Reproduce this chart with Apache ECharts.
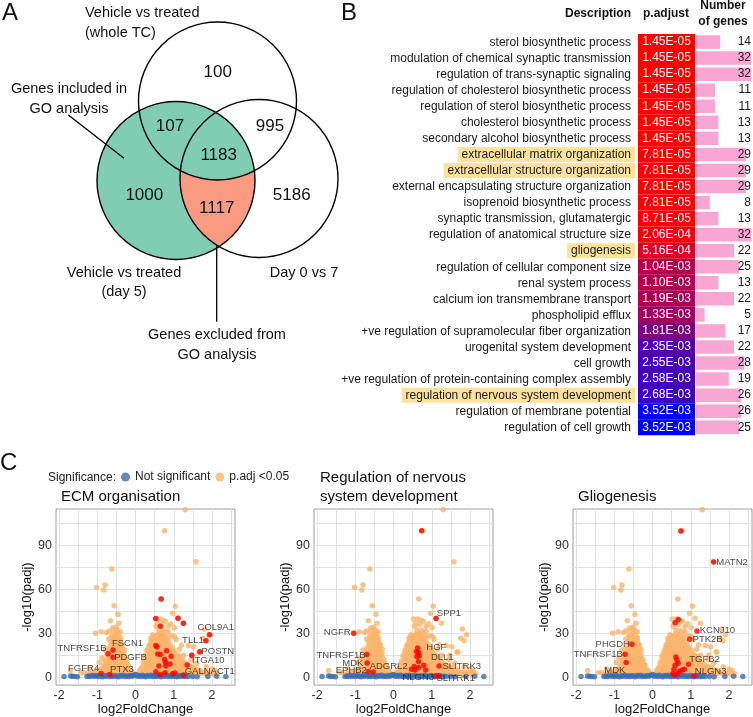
<!DOCTYPE html>
<html>
<head>
<meta charset="utf-8">
<title>Figure</title>
<script src="https://cdn.jsdelivr.net/npm/echarts@6.0.0/dist/echarts.min.js"></script>
<style>
html,body{margin:0;padding:0;background:#fff;}
#chart{width:753px;height:717px;}
</style>
</head>
<body>
<div id="chart"></div>
<script>
// ======================= DATA =======================
// Panel A – Venn diagram
const vennSets = ['Vehicle vs treated\n(whole TC)', 'Vehicle vs treated\n(day 5)', 'Day 0 vs 7'];
const vennRegions = ['whole TC only', 'whole TC & day 5', 'whole TC & day 0 vs 7', 'all three', 'day 5 only', 'day 5 & day 0 vs 7', 'day 0 vs 7 only'];
const vennCounts = [100, 107, 995, 1183, 1000, 1117, 5186];
const vennNotes = ['Genes included in\nGO analysis', 'Genes excluded from\nGO analysis'];

// Panel B – GO enrichment table
const goTerms = [
  'sterol biosynthetic process',
  'modulation of chemical synaptic transmission',
  'regulation of trans-synaptic signaling',
  'regulation of cholesterol biosynthetic process',
  'regulation of sterol biosynthetic process',
  'cholesterol biosynthetic process',
  'secondary alcohol biosynthetic process',
  'extracellular matrix organization',
  'extracellular structure organization',
  'external encapsulating structure organization',
  'isoprenoid biosynthetic process',
  'synaptic transmission, glutamatergic',
  'regulation of anatomical structure size',
  'gliogenesis',
  'regulation of cellular component size',
  'renal system process',
  'calcium ion transmembrane transport',
  'phospholipid efflux',
  '+ve regulation of supramolecular fiber organization',
  'urogenital system development',
  'cell growth',
  '+ve regulation of protein-containing complex assembly',
  'regulation of nervous system development',
  'regulation of membrane potential',
  'regulation of cell growth'
];
const pAdjust = [1.45e-5, 1.45e-5, 1.45e-5, 1.45e-5, 1.45e-5, 1.45e-5, 1.45e-5, 7.81e-5, 7.81e-5, 7.81e-5,
  7.81e-5, 8.71e-5, 2.06e-4, 5.16e-4, 1.04e-3, 1.10e-3, 1.19e-3, 1.33e-3, 1.81e-3, 2.35e-3,
  2.55e-3, 2.58e-3, 2.68e-3, 3.52e-3, 3.52e-3];
const geneCounts = [14, 32, 32, 11, 11, 13, 13, 29, 29, 29, 8, 13, 32, 22, 25, 13, 22, 5, 17, 22, 28, 19, 26, 26, 25];
const highlightedTerms = ['extracellular matrix organization', 'extracellular structure organization', 'gliogenesis', 'regulation of nervous system development'];
const tableHeaders = ['Description', 'p.adjust', 'Number\nof genes'];

// Panel C – volcano plots
const volcanoTitles = ['ECM organisation', 'Regulation of nervous\nsystem development', 'Gliogenesis'];
const xTicks = [-2, -1, 0, 1, 2];
const yTicks = [0, 30, 60, 90];
const xGridBreaks = [-2, -1.5, -1, -0.5, 0, 0.5, 1, 1.5, 2, 2.5];
const yGridBreaks = [0, 15, 30, 45, 60, 75, 90, 105];

const notSignificant = [
  [-1.87,0.3],[-1.70,0.7],[-1.65,0.5],[-1.59,0.3],[-1.52,0.2],[-1.27,0.4],[-1.22,0.8],[-1.18,0.3],[-1.13,1.0],[-1.08,0.5],
  [-1.04,0.9],[-0.99,0.3],[-0.95,1.1],[-0.90,0.6],[-0.86,0.2],[-0.81,0.9],[-0.77,0.5],[-0.72,1.2],[-0.68,0.3],[-0.63,0.8],
  [-0.59,0.4],[-0.54,1.1],[-0.50,0.6],[-0.45,0.2],[-0.41,1.0],[-0.36,0.5],[-0.32,1.2],[-0.27,0.3],[-0.23,0.8],[-0.18,0.4],
  [-0.14,1.1],[-0.09,0.6],[-0.05,1.3],[0.00,1.8],[0.04,0.6],[0.09,1.1],[0.13,0.3],[0.18,1.2],[0.22,0.6],[0.27,0.2],
  [0.31,1.0],[0.36,0.5],[0.40,1.2],[0.45,0.3],[0.49,0.9],[0.54,0.4],[0.58,1.1],[0.63,0.6],[0.67,0.2],[0.72,1.0],
  [0.76,0.5],[0.81,1.2],[0.85,0.3],[0.90,0.8],[0.94,0.4],[0.99,1.1],[1.03,0.6],[1.08,0.2],[1.12,0.9],[1.17,0.4],
  [1.21,1.0],[1.26,0.3],[1.31,0.6],[1.37,0.3],[1.49,0.3],[1.61,0.2],[1.89,0.3],[2.12,0.5],[2.36,0.4]
];

const significant = [
  // left lobe
  [-1.25,2.0],[-1.15,2.4],[-1.05,2.0],[-1.05,3.5],[-0.95,2.2],[-0.95,5.0],
  [-0.85,2.0],[-0.85,4.8],[-0.85,7.6],
  [-0.75,3.4],[-0.75,6.2],[-0.75,9.0],[-0.75,11.8],[-0.75,14.6],
  [-0.65,2.0],[-0.65,4.8],[-0.65,7.6],[-0.65,10.4],[-0.65,13.2],[-0.65,16.0],[-0.65,18.8],[-0.65,21.6],[-0.65,24.4],
  [-0.55,3.4],[-0.55,6.2],[-0.55,9.0],[-0.55,11.8],[-0.55,14.6],[-0.55,17.4],[-0.55,20.2],[-0.55,23.0],[-0.55,25.8],[-0.55,28.6],
  [-0.45,2.0],[-0.45,4.8],[-0.45,7.6],[-0.45,10.4],[-0.45,13.2],[-0.45,16.0],[-0.45,18.8],[-0.45,21.6],[-0.45,24.4],[-0.45,27.2],[-0.45,30.0],
  [-0.35,3.4],[-0.35,6.2],[-0.35,9.0],[-0.35,11.8],[-0.35,14.6],[-0.35,17.4],[-0.35,20.2],[-0.35,22.5],
  [-0.25,2.0],[-0.25,4.8],[-0.25,7.6],[-0.25,10.4],[-0.25,12.0],
  [-0.15,3.4],[-0.15,5.2],[-0.06,2.0],
  [-1.20,2.2],[-1.10,2.2],[-1.10,3.2],[-1.00,2.0],[-1.00,4.2],[-0.90,2.7],[-0.90,5.5],
  [-0.80,2.7],[-0.80,5.5],[-0.80,8.3],[-0.80,11.1],
  [-0.70,2.7],[-0.70,5.5],[-0.70,8.3],[-0.70,11.1],[-0.70,13.9],[-0.70,16.7],[-0.70,19.5],
  [-0.60,2.7],[-0.60,5.5],[-0.60,8.3],[-0.60,11.1],[-0.60,13.9],[-0.60,16.7],[-0.60,19.5],[-0.60,22.3],[-0.60,25.1],[-0.60,27.0],
  [-0.50,2.7],[-0.50,5.5],[-0.50,8.3],[-0.50,11.1],[-0.50,13.9],[-0.50,16.7],[-0.50,19.5],[-0.50,22.3],[-0.50,25.1],[-0.50,27.9],[-0.50,30.5],
  [-0.40,2.7],[-0.40,5.5],[-0.40,8.3],[-0.40,11.1],[-0.40,13.9],[-0.40,16.7],[-0.40,19.5],[-0.40,22.3],[-0.40,25.1],[-0.40,27.0],
  [-0.30,2.7],[-0.30,5.5],[-0.30,8.3],[-0.30,11.1],[-0.30,13.9],[-0.30,16.5],
  [-0.20,2.7],[-0.20,5.5],[-0.20,8.3],[-0.10,2.7],[-0.10,4.0],
  // right lobe
  [0.05,2.0],[0.15,3.4],[0.15,6.2],
  [0.25,2.0],[0.25,4.8],[0.25,7.6],[0.25,10.4],[0.25,13.2],[0.25,15.0],
  [0.35,3.4],[0.35,6.2],[0.35,9.0],[0.35,11.8],[0.35,14.6],[0.35,17.4],[0.35,20.2],[0.35,22.0],
  [0.45,2.0],[0.45,4.8],[0.45,7.6],[0.45,10.4],[0.45,13.2],[0.45,16.0],[0.45,18.8],[0.45,21.6],[0.45,24.4],[0.45,26.5],
  [0.55,3.4],[0.55,6.2],[0.55,9.0],[0.55,11.8],[0.55,14.6],[0.55,17.4],[0.55,20.2],[0.55,23.0],[0.55,25.8],[0.55,28.6],
  [0.65,2.0],[0.65,4.8],[0.65,7.6],[0.65,10.4],[0.65,13.2],[0.65,16.0],[0.65,18.8],[0.65,21.6],[0.65,24.4],[0.65,27.2],[0.65,30.0],
  [0.75,3.4],[0.75,6.2],[0.75,9.0],[0.75,11.8],[0.75,14.6],[0.75,17.4],[0.75,20.2],[0.75,23.0],[0.75,25.8],[0.75,28.0],
  [0.85,2.0],[0.85,4.8],[0.85,7.6],[0.85,10.4],[0.85,13.2],[0.85,16.0],[0.85,18.8],[0.85,21.6],[0.85,24.4],
  [0.95,3.4],[0.95,6.2],[0.95,9.0],[0.95,11.8],[0.95,14.6],[0.95,17.4],[0.95,20.2],
  [1.05,2.0],[1.05,4.8],[1.05,7.6],[1.05,10.4],[1.05,13.2],[1.05,16.0],
  [1.15,3.4],[1.15,6.2],[1.15,9.0],[1.15,11.8],[1.15,14.0],
  [1.25,2.0],[1.25,4.8],[1.25,7.6],[1.25,10.4],
  [1.35,3.4],[1.35,6.2],[1.35,8.5],
  [1.45,2.0],[1.45,4.8],[1.45,7.0],
  [1.55,3.4],[1.55,6.0],[1.65,2.0],[1.65,4.8],[1.75,3.2],[1.85,2.0],[1.85,3.6],[1.95,2.8],[2.05,2.0],[2.05,3.2],[2.15,2.2],
  [0.10,2.7],[0.10,4.5],[0.20,2.7],[0.20,5.5],[0.20,8.3],[0.20,10.5],
  [0.30,2.7],[0.30,5.5],[0.30,8.3],[0.30,11.1],[0.30,13.9],[0.30,16.7],[0.30,18.5],
  [0.40,2.7],[0.40,5.5],[0.40,8.3],[0.40,11.1],[0.40,13.9],[0.40,16.7],[0.40,19.5],[0.40,22.3],[0.40,24.0],
  [0.50,2.7],[0.50,5.5],[0.50,8.3],[0.50,11.1],[0.50,13.9],[0.50,16.7],[0.50,19.5],[0.50,22.3],[0.50,25.1],[0.50,27.5],
  [0.60,2.7],[0.60,5.5],[0.60,8.3],[0.60,11.1],[0.60,13.9],[0.60,16.7],[0.60,19.5],[0.60,22.3],[0.60,25.1],[0.60,27.9],[0.60,29.5],
  [0.70,2.7],[0.70,5.5],[0.70,8.3],[0.70,11.1],[0.70,13.9],[0.70,16.7],[0.70,19.5],[0.70,22.3],[0.70,25.1],[0.70,27.9],[0.70,29.5],
  [0.80,2.7],[0.80,5.5],[0.80,8.3],[0.80,11.1],[0.80,13.9],[0.80,16.7],[0.80,19.5],[0.80,22.3],[0.80,25.1],[0.80,26.5],
  [0.90,2.7],[0.90,5.5],[0.90,8.3],[0.90,11.1],[0.90,13.9],[0.90,16.7],[0.90,19.5],[0.90,22.3],
  [1.00,2.7],[1.00,5.5],[1.00,8.3],[1.00,11.1],[1.00,13.9],[1.00,16.7],[1.00,18.5],
  [1.10,2.7],[1.10,5.5],[1.10,8.3],[1.10,11.1],[1.10,13.9],[1.10,15.0],
  [1.20,2.7],[1.20,5.5],[1.20,8.3],[1.20,11.1],[1.20,12.5],
  [1.30,2.7],[1.30,5.5],[1.30,8.3],[1.30,9.5],
  [1.40,2.7],[1.40,5.5],[1.40,7.6],[1.50,2.7],[1.50,5.0],[1.50,6.5],
  [1.60,2.7],[1.60,4.8],[1.70,2.7],[1.70,4.0],[1.80,2.7],[1.90,2.2],[2.00,2.5],
  // scattered genes
  [-1.70,4.5],[-1.42,3.0],[-1.34,3.2],[-1.20,5.5],[-1.05,30.0],[-1.02,61.3],[-0.80,63.0],[-0.83,59.5],[-0.62,74.0],[-0.56,48.8],
  [-0.46,43.0],[-0.66,38.5],[-0.43,36.8],[-0.90,31.0],[-0.76,30.5],[-0.70,31.5],[-0.60,33.5],[-0.52,34.0],[-0.48,32.5],[-0.40,31.0],
  [-0.95,10.0],[-0.88,13.0],[-0.80,18.5],[-0.70,26.0],[-0.62,28.5],[-0.30,19.0],[-0.20,8.0],[-0.58,31.5],
  [1.30,114.5],[0.76,100.2],[1.58,78.9],[0.66,53.5],[1.04,48.4],[0.97,43.6],[0.52,39.8],[0.63,39.8],[0.72,38.9],[0.78,38.2],
  [0.68,35.9],[0.54,34.8],[0.85,34.8],[0.61,32.0],[0.73,32.1],[0.85,31.4],[1.01,33.7],[0.95,28.5],[1.06,25.7],[1.02,27.5],
  [1.38,21.6],[1.80,32.9],[1.91,29.0],[1.76,26.5],[1.66,17.0],[1.52,20.7],[0.92,36.5],[0.58,36.8],[0.45,29.0],[0.40,26.5],
  [1.15,19.0],[1.25,15.0],[1.45,12.0],[1.60,9.5],[1.85,7.0],[2.00,5.5],[2.08,4.5],[1.20,22.0],[0.88,27.5],[0.80,30.5],
  [1.84,24.8],[1.68,17.3],[1.47,15.0],[1.11,40.2],[1.25,36.8]
];

// highlighted genes per GO term: [log2FC, -log10(padj), gene]
const ecmGenes = [
  [0.67,53.4,''],[0.53,40.0,''],[1.11,40.2,''],[1.25,36.8,''],[0.65,34.8,''],
  [1.94,28.9,'COL9A1'],[1.84,24.8,'TLL1'],[1.68,17.3,'POSTN'],[1.47,15.0,'ITGA10'],[1.35,8.2,''],
  [-0.59,18.6,'FSCN1'],[-0.72,15.9,'TNFRSF1B'],[-0.59,13.6,'PDGFB'],
  [0.53,21.6,''],[0.56,20.5,''],[0.58,15.7,''],[0.81,18.0,''],[0.76,12.0,''],[0.78,10.2,''],[0.93,14.3,''],
  [0.65,15.5,''],[0.61,7.5,''],[0.79,7.5,''],[0.90,9.0,''],[0.53,3.6,''],[0.65,1.8,''],[0.77,3.0,''],[0.97,2.3,''],[1.03,2.7,''],
  [1.26,1.4,'GALNACT1'],[-0.90,2.5,'FGFR4'],[-0.67,1.8,'PTX3']
];
const nervousGenes = [
  [0.73,100.2,''],[1.11,40.1,'SPP1'],[-1.04,29.9,'NGFR'],[-0.70,15.4,'TNFRSF1B'],[-0.69,9.7,'MDK'],
  [-0.66,3.8,'EPHB2'],[-0.53,3.5,'ADGRL2'],[0.79,8.1,'HGF'],[0.84,4.9,'DLL1'],[1.19,7.6,'SLITRK3'],
  [1.11,0.8,'NLGN3'],[1.17,0.8,'SLITRK1'],
  [0.63,19.9,''],[0.66,16.7,''],[0.61,14.0,''],[0.65,10.6,''],[0.54,7.2,''],[0.56,4.9,''],[0.66,6.5,''],
  [0.47,5.4,''],[0.67,14.5,''],[0.60,17.5,'']
];
const gliaGenes = [
  [0.74,100.0,''],[1.60,78.7,'MATN2'],[0.67,39.4,''],[0.59,37.2,''],[1.16,31.5,'KCNJ10'],[0.97,25.8,'PTK2B'],
  [-0.54,22.4,'PHGDH'],[-0.72,15.6,'TNFRSF1B'],[-0.69,9.9,'MDK'],[0.94,8.8,'TGFB2'],[1.09,0.8,'NLGN3'],
  [0.61,13.8,''],[0.64,11.5,''],[0.67,9.5,''],[0.59,8.1,''],[0.56,5.4,''],[0.72,4.2,''],[0.78,4.9,''],
  [0.83,5.4,''],[0.53,2.5,''],[0.59,1.3,''],[0.67,2.7,'']
];

// ======================= LAYOUT / STYLE =======================
const FONT = "'Liberation Sans', Arial, Helvetica, sans-serif";
const TEAL = '#80cdb4', SALMON = '#fa9b81';
const BLUE = '#3a6db4', ORANGE = '#fbb46b', RED = '#ff0000', PINK = '#f9a6d4', HILITE = '#fce29a';

const VENN_LAYOUT = {
  circles: [[217.5, 101, 79], [176, 180.5, 79], [259, 178.5, 79]],  // whole TC, day 5, day 0 vs 7
  countPos: [[217.7,72.7],[170,126.7],[270,126.7],[218.7,155],[144.3,195],[216.7,208.3],[291.7,195]],
  setPos: [{x:85, y:13.3, align:'left'}, {x:124, y:272.7, align:'center'}, {x:304, y:272.7, align:'center'}],
  notePos: [{x:69, y:89.3}, {x:217, y:335}],
  noteLines: [[[68.3,115],[124,158.3]], [[216.7,245],[216.7,321.7]]],
  lineHeight: 19.5
};

const LABEL_OFFSETS = [
  { COL9A1:[6,-7], TLL1:[-13,-0.5], POSTN:[18,0], ITGA10:[16.5,5.5], GALNACT1:[26,-3.5],
    FSCN1:[14.5,-6.3], TNFRSF1B:[-26,-5], PDGFB:[17.5,0], FGFR4:[-17.5,-5], PTX3:[12,-5.3] },
  { SPP1:[13,-5], NGFR:[-16.5,-0.7], TNFRSF1B:[-25.7,0.4], MDK:[-14.3,0], EPHB2:[-17,-1], ADGRL2:[15.4,-5.4],
    HGF:[12.6,-17.7], DLL1:[16.6,-13], SLITRK3:[22.7,0], NLGN3:[-17.7,1.6], SLITRK1:[17.4,2.3] },
  { MATN2:[18.3,0], KCNJ10:[20.5,-0.7], PTK2B:[18,0.3], PHGDH:[-19.2,0.3], TNFRSF1B:[-26.7,0],
    MDK:[-11.3,7.4], TGFB2:[16,-4.7], NLGN3:[16.4,-5] }
];
const VOLCANO_GRIDS = [{left:56}, {left:314}, {left:573}];
const VOLCANO_TOP = 509, VOLCANO_W = 179, VOLCANO_H = 177;

// ======================= HELPERS =======================
function fmtP(p) {
  const parts = p.toExponential(2).split('e');
  const e = parseInt(parts[1], 10);
  const n = Math.abs(e);
  return parts[0] + 'E' + (e < 0 ? '-' : '+') + (n < 10 ? '0' : '') + n;
}
function lensPoints(A, B) {
  const dx = B.x - A.x, dy = B.y - A.y, d = Math.hypot(dx, dy);
  const phi = Math.atan2(dy, dx), psi = Math.atan2(-dy, -dx);
  const alpha = Math.acos((d*d + A.r*A.r - B.r*B.r) / (2*d*A.r));
  const beta = Math.acos((d*d + B.r*B.r - A.r*A.r) / (2*d*B.r));
  const pts = [], N = 80;
  for (let i = 0; i <= N; i++) { const t = phi - alpha + 2*alpha*i/N; pts.push([A.x + A.r*Math.cos(t), A.y + A.r*Math.sin(t)]); }
  for (let i = 0; i <= N; i++) { const t = psi - beta + 2*beta*i/N; pts.push([B.x + B.r*Math.cos(t), B.y + B.r*Math.sin(t)]); }
  return pts;
}
function textEl(x, y, text, size, align, extra) {
  return Object.assign({ type: 'text', x: x, y: y, silent: true,
    style: Object.assign({ text: text, fontSize: size, fontFamily: FONT, fill: '#111',
      align: align || 'center', verticalAlign: 'middle', textAlign: align || 'center', textVerticalAlign: 'middle' }, extra || {}) });
}

function renderVenn(params, api) {
  const C = VENN_LAYOUT.circles.map(c => {
    const p = api.coord([c[0], c[1]]), q = api.coord([c[0] + c[2], c[1]]);
    return { x: p[0], y: p[1], r: Math.abs(q[0] - p[0]) };
  });
  const top = C[0], left = C[1], right = C[2];
  const els = [];
  els.push({ type: 'circle', shape: { cx: left.x, cy: left.y, r: left.r }, style: { fill: TEAL } });
  els.push({ type: 'polygon', shape: { points: lensPoints(left, right) }, style: { fill: SALMON } });
  els.push({ type: 'polygon', shape: { points: lensPoints(left, top) }, style: { fill: TEAL } });
  C.forEach(c => els.push({ type: 'circle', shape: { cx: c.x, cy: c.y, r: c.r }, style: { fill: 'none', stroke: '#000', lineWidth: 1.4 } }));
  vennCounts.forEach((n, i) => {
    const p = api.coord(VENN_LAYOUT.countPos[i]);
    els.push(textEl(p[0], p[1], String(n), 17, 'center'));
  });
  vennSets.forEach((s, i) => {
    const L = VENN_LAYOUT.setPos[i];
    s.split('\n').forEach((line, j) => {
      const p = api.coord([L.x, L.y + j * VENN_LAYOUT.lineHeight]);
      els.push(textEl(p[0], p[1], line, 14.5, L.align));
    });
  });
  vennNotes.forEach((s, i) => {
    const L = VENN_LAYOUT.notePos[i];
    s.split('\n').forEach((line, j) => {
      const p = api.coord([L.x, L.y + j * VENN_LAYOUT.lineHeight]);
      els.push(textEl(p[0], p[1], line, 14.5, 'center'));
    });
  });
  VENN_LAYOUT.noteLines.forEach(seg => {
    const a = api.coord(seg[0]), b = api.coord(seg[1]);
    els.push({ type: 'line', shape: { x1: a[0], y1: a[1], x2: b[0], y2: b[1] }, style: { stroke: '#000', lineWidth: 1.3 } });
  });
  return { type: 'group', children: els };
}

// ======================= OPTION =======================
const grids = [
  { left: 0, top: 0, width: 380, height: 380, show: false },
  { left: 638, top: 34, width: 57, height: 25 * 16.05, show: false },
  { left: 696, top: 34, width: 57, height: 25 * 16.05, show: false }
];
VOLCANO_GRIDS.forEach(g => grids.push({ left: g.left, top: VOLCANO_TOP, width: VOLCANO_W, height: VOLCANO_H,
  show: true, backgroundColor: '#fff', borderColor: '#9c9c9c', borderWidth: 1 }));

const xAxes = [
  { gridIndex: 0, type: 'value', min: 0, max: 380, show: false },
  { gridIndex: 1, type: 'value', min: 0, max: 1, show: false },
  { gridIndex: 2, type: 'value', min: 0, max: 33, show: false }
];
const yAxes = [
  { gridIndex: 0, type: 'value', min: 0, max: 380, inverse: true, show: false },
  { gridIndex: 1, type: 'category', data: goTerms, inverse: true,
    axisLine: { show: false }, axisTick: { show: false }, splitLine: { show: false },
    axisLabel: { interval: 0, margin: 3,
      formatter: v => (highlightedTerms.indexOf(v) >= 0 ? '{h|' : '{n|') + v + '}',
      rich: {
        h: { backgroundColor: HILITE, padding: [2, 4, 1, 4], fontSize: 12, lineHeight: 13, color: '#1a1a1a', fontFamily: FONT },
        n: { padding: [2, 4, 1, 4], fontSize: 12, lineHeight: 13, color: '#1a1a1a', fontFamily: FONT }
      } } },
  { gridIndex: 2, type: 'category', data: goTerms, inverse: true, show: false }
];
VOLCANO_GRIDS.forEach((g, k) => {
  xAxes.push({ gridIndex: 3 + k, type: 'value', min: -2.08, max: 2.60,
    splitLine: { show: false }, axisLine: { show: false },
    axisTick: { show: true, length: 3, lineStyle: { color: '#333' }, customValues: xTicks },
    axisLabel: { customValues: xTicks, margin: 4, fontSize: 12.5, color: '#333', fontFamily: FONT },
    name: 'log2FoldChange', nameLocation: 'middle', nameGap: 17,
    nameTextStyle: { fontSize: 13, color: '#111', fontFamily: FONT } });
  yAxes.push({ gridIndex: 3 + k, type: 'value', min: -5.5, max: 115,
    splitLine: { show: false }, axisLine: { show: false },
    axisTick: { show: true, length: 3, lineStyle: { color: '#333' }, customValues: yTicks },
    axisLabel: { customValues: yTicks, margin: 4, fontSize: 12.5, color: '#333', fontFamily: FONT },
    name: '-log10(padj)', nameLocation: 'middle', nameGap: 20,
    nameTextStyle: { fontSize: 13, color: '#111', fontFamily: FONT } });
});

const series = [
  { type: 'custom', name: 'venn', coordinateSystem: 'cartesian2d', xAxisIndex: 0, yAxisIndex: 0,
    data: [[0, 0]], renderItem: renderVenn, silent: true, clip: false },
  { type: 'bar', name: 'p.adjust', xAxisIndex: 1, yAxisIndex: 1, encode: { x: 0, y: 1 },
    data: pAdjust.map((p, i) => [1, i, p]), barCategoryGap: '0%', silent: true,
    label: { show: true, position: 'inside', formatter: prm => fmtP(prm.value[2]), color: '#fff', fontSize: 12, fontFamily: FONT } },
  { type: 'bar', name: 'Number of genes', xAxisIndex: 2, yAxisIndex: 2, data: geneCounts, barWidth: 13.5, silent: true,
    itemStyle: { color: PINK },
    label: { show: true, position: [55, '50%'], align: 'right', verticalAlign: 'middle', color: '#1a1a1a', fontSize: 12, fontFamily: FONT } }
];

const highlightSets = [ecmGenes, nervousGenes, gliaGenes];
highlightSets.forEach((genes, k) => {
  const ax = 3 + k;
  const gridLineData = xGridBreaks.map(v => ({ xAxis: v })).concat(yGridBreaks.map(v => ({ yAxis: v })));
  series.push({ type: 'scatter', name: 'p.adj <0.05', xAxisIndex: ax, yAxisIndex: ax, data: significant,
    symbolSize: 5.5, itemStyle: { color: ORANGE }, z: 2, silent: true,
    markLine: { silent: true, symbol: 'none', z: 1, animation: false, label: { show: false },
      lineStyle: { color: '#e2e2e2', width: 1, type: 'solid' }, data: gridLineData } });
  series.push({ type: 'scatter', name: 'Not significant', xAxisIndex: ax, yAxisIndex: ax, data: notSignificant,
    symbolSize: 5.5, itemStyle: { color: BLUE }, z: 3, silent: true });
  series.push({ type: 'scatter', name: 'highlighted', xAxisIndex: ax, yAxisIndex: ax, z: 4, silent: true,
    symbolSize: 5.5, itemStyle: { color: RED },
    label: { show: false, position: 'inside', formatter: '{b}', color: '#1a1a1a', fontSize: 9.5, fontFamily: FONT },
    data: genes.map(g => ({ value: [g[0], g[1]], name: g[2],
      label: g[2] ? { show: true, offset: LABEL_OFFSETS[k][g[2]] || [0, 0] } : { show: false } })) });
});

const graphicEls = [
  textEl(2, 13, 'A', 24, 'left'),
  textEl(341, 13, 'B', 24, 'left'),
  textEl(0, 463, 'C', 24, 'left'),
  textEl(631, 14, tableHeaders[0], 12, 'right', { fontWeight: 'bold' }),
  textEl(666, 14, tableHeaders[1], 12, 'center', { fontWeight: 'bold' }),
  textEl(48, 478, 'Significance:', 12, 'left', { fill: '#222' })
];
tableHeaders[2].split('\n').forEach((line, j) => graphicEls.push(textEl(723, 6 + j * 16, line, 12, 'center', { fontWeight: 'bold' })));
const titleLeft = [61, 320, 578];
volcanoTitles.forEach((t, k) => {
  const lines = t.split('\n');
  lines.forEach((line, j) => graphicEls.push(textEl(titleLeft[k], 497 - (lines.length - 1 - j) * 19.5, line, 15, 'left')));
});

const option = {
  animation: false,
  backgroundColor: '#fff',
  textStyle: { fontFamily: FONT },
  grid: grids,
  xAxis: xAxes,
  yAxis: yAxes,
  visualMap: [{ type: 'continuous', show: false, seriesIndex: 1, dimension: 2,
    min: Math.min.apply(null, pAdjust), max: Math.max.apply(null, pAdjust),
    inRange: { color: ['#ff0000', '#0000ff'] } }],
  legend: { data: ['Not significant', 'p.adj <0.05'], left: 121, top: 471, padding: 0, icon: 'circle',
    itemWidth: 9, itemHeight: 9, itemGap: 5, selectedMode: false,
    textStyle: { fontSize: 12, color: '#222', fontFamily: FONT } },
  graphic: { elements: graphicEls },
  series: series
};

const chart = echarts.init(document.getElementById('chart'), null, { renderer: 'canvas' });
chart.setOption(option);
</script>
</body>
</html>
